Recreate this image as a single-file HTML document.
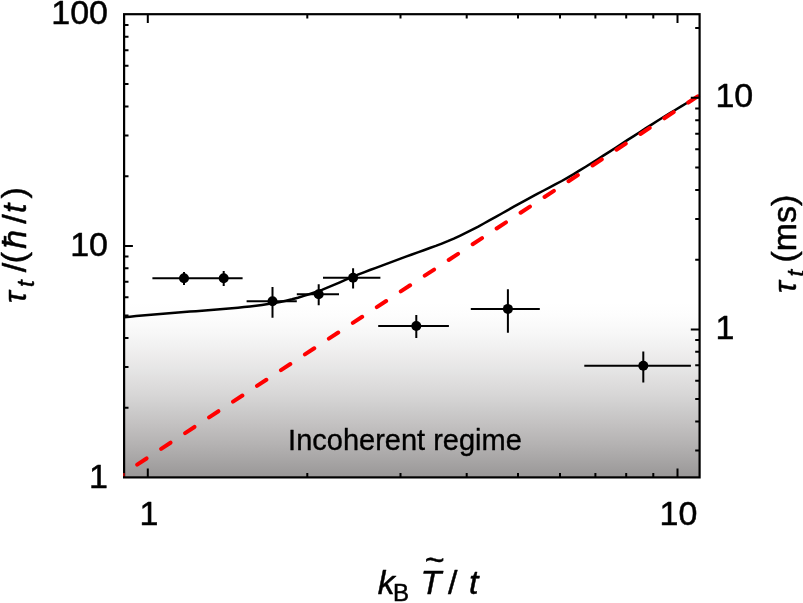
<!DOCTYPE html>
<html lang="en"><head><meta charset="utf-8"><title>Figure</title>
<style>html,body{margin:0;padding:0;background:#fff}svg{display:block}text{font-family:"Liberation Sans",sans-serif;fill:#000;stroke:#000;stroke-width:0.5px;stroke-linejoin:round}.i{font-style:italic}</style></head><body>
<svg width="803" height="603" viewBox="0 0 803 603">
<defs><linearGradient id="g" x1="0" y1="0" x2="0" y2="1"><stop offset="0.0000" stop-color="#ffffff"/><stop offset="0.0625" stop-color="#fdfdfd"/><stop offset="0.1250" stop-color="#fafafa"/><stop offset="0.1875" stop-color="#f6f6f6"/><stop offset="0.2500" stop-color="#f1f1f1"/><stop offset="0.3125" stop-color="#ecebeb"/><stop offset="0.3750" stop-color="#e6e6e6"/><stop offset="0.4375" stop-color="#e0dfdf"/><stop offset="0.5000" stop-color="#dad9d9"/><stop offset="0.5625" stop-color="#d3d2d2"/><stop offset="0.6250" stop-color="#cbcaca"/><stop offset="0.6875" stop-color="#c4c2c2"/><stop offset="0.7500" stop-color="#bcbaba"/><stop offset="0.8125" stop-color="#b4b2b2"/><stop offset="0.8750" stop-color="#aba9a9"/><stop offset="0.9375" stop-color="#a2a0a0"/><stop offset="1.0000" stop-color="#999797"/></linearGradient><clipPath id="c"><rect x="124.1" y="14.2" width="576.5" height="463.2"/></clipPath></defs>
<rect width="803" height="603" fill="#fff"/>
<rect x="124.1" y="303.0" width="575.5" height="174.4" fill="url(#g)"/>
<path d="M124.1 317.3 L130.1 316.7 L136.1 316.0 L142.1 315.4 L148.1 314.9 L154.1 314.4 L160.1 313.9 L166.1 313.4 L172.1 312.9 L178.1 312.5 L184.0 312.0 L190.0 311.6 L196.0 311.2 L202.0 310.7 L208.0 310.3 L214.0 309.8 L220.0 309.3 L226.0 308.8 L232.0 308.3 L238.0 307.7 L244.0 307.1 L250.0 306.5 L256.0 305.8 L262.0 305.0 L268.0 304.1 L274.0 303.1 L280.0 302.0 L286.0 300.7 L292.0 299.3 L297.9 297.7 L303.9 295.9 L309.9 294.0 L315.9 292.0 L321.9 289.8 L327.9 287.4 L333.9 284.9 L339.9 282.3 L345.9 279.7 L351.9 277.1 L357.9 274.7 L363.9 272.3 L369.9 270.0 L375.9 267.8 L381.9 265.6 L387.9 263.4 L393.9 261.2 L399.9 258.9 L405.9 256.7 L411.9 254.5 L417.8 252.3 L423.8 250.2 L429.8 248.0 L435.8 245.9 L441.8 243.6 L447.8 241.2 L453.8 238.6 L459.8 235.8 L465.8 232.9 L471.8 229.9 L477.8 226.8 L483.8 223.5 L489.8 220.2 L495.8 216.9 L501.8 213.5 L507.8 210.1 L513.8 206.7 L519.8 203.4 L525.8 200.1 L531.7 196.8 L537.7 193.6 L543.7 190.5 L549.7 187.4 L555.7 184.2 L561.7 181.0 L567.7 177.6 L573.7 174.1 L579.7 170.4 L585.7 166.8 L591.7 163.0 L597.7 159.2 L603.7 155.4 L609.7 151.6 L615.7 147.7 L621.7 143.8 L627.7 139.9 L633.7 136.1 L639.7 132.2 L645.6 128.4 L651.6 124.6 L657.6 120.8 L663.6 117.0 L669.6 113.3 L675.6 109.7 L681.6 106.1 L687.6 102.5 L693.6 99.0 L699.6 95.6" stroke="#000" stroke-width="2.5" fill="none" stroke-linejoin="round"/>
<path d="M113.23 480.35L702.60 93.14" stroke="#ff0000" stroke-width="4" stroke-linecap="round" stroke-dasharray="11.2 17.47" fill="none" clip-path="url(#c)"/>
<path d="M147.8 477.4V468.6M147.8 14.2V23.0M307.3 477.4V473.0M307.3 14.2V18.6M400.5 477.4V473.0M400.5 14.2V18.6M466.7 477.4V473.0M466.7 14.2V18.6M518.0 477.4V473.0M518.0 14.2V18.6M560.0 477.4V473.0M560.0 14.2V18.6M595.4 477.4V473.0M595.4 14.2V18.6M626.2 477.4V473.0M626.2 14.2V18.6M653.3 477.4V473.0M653.3 14.2V18.6M677.5 477.4V468.6M677.5 14.2V23.0M124.1 407.8H128.5M124.1 367.0H128.5M124.1 338.1H128.5M124.1 315.6H128.5M124.1 297.3H128.5M124.1 281.8H128.5M124.1 268.3H128.5M124.1 256.5H128.5M124.1 245.9H132.9M124.1 176.2H128.5M124.1 135.4H128.5M124.1 106.5H128.5M124.1 84.0H128.5M124.1 65.7H128.5M124.1 50.2H128.5M124.1 36.7H128.5M124.1 24.9H128.5M699.6 450.5H695.2M699.6 421.6H695.2M699.6 399.1H695.2M699.6 380.8H695.2M699.6 365.3H695.2M699.6 351.8H695.2M699.6 340.0H695.2M699.6 329.4H690.8M699.6 259.7H695.2M699.6 218.9H695.2M699.6 190.0H695.2M699.6 167.5H695.2M699.6 149.2H695.2M699.6 133.7H695.2M699.6 120.2H695.2M699.6 108.4H695.2M699.6 97.8H690.8M699.6 28.1H695.2" stroke="#000" stroke-width="2.0" fill="none"/>
<path d="M152.4 278.3H211.7M184.0 271.9V284.9M203.1 278.3H242.6M223.7 270.9V285.9M246.6 301.2H296.8M272.5 287.0V317.7M296.8 294.2H339.0M318.7 284.2V305.3M323.0 277.8H380.4M353.1 268.3V288.4M378.2 326.0H448.9M416.3 315.1V338.0M470.8 308.9H539.8M507.9 289.2V332.8M584.3 365.8H690.9M643.3 351.5V382.4" stroke="#000" stroke-width="2" fill="none"/>
<circle cx="184.0" cy="278.3" r="5.0" fill="#000"/>
<circle cx="223.7" cy="278.3" r="5.0" fill="#000"/>
<circle cx="272.5" cy="301.2" r="5.0" fill="#000"/>
<circle cx="318.7" cy="294.2" r="5.0" fill="#000"/>
<circle cx="353.1" cy="277.8" r="5.0" fill="#000"/>
<circle cx="416.3" cy="326.0" r="5.0" fill="#000"/>
<circle cx="507.9" cy="308.9" r="5.0" fill="#000"/>
<circle cx="643.3" cy="365.8" r="5.0" fill="#000"/>
<rect x="124.1" y="14.2" width="575.5" height="463.2" fill="none" stroke="#000" stroke-width="2.2"/>
<rect x="123.3" y="472.9" width="1.3" height="3.4" rx="0.6" fill="#ff0000"/>
<g font-size="34">
<text x="108.0" y="23.8" text-anchor="end">100</text>
<text x="108.0" y="256.0" text-anchor="end">10</text>
<text x="108.0" y="488.1" text-anchor="end">1</text>
<text x="715.4" y="107.2">10</text>
<text x="715.4" y="338.7">1</text>
<text x="149.0" y="524.9" text-anchor="middle">1</text>
<text x="678.4" y="524.9" text-anchor="middle">10</text>
</g>
<text x="288.1" y="450.1" font-size="29" style="stroke-width:0.35px">Incoherent regime</text>
<g font-size="34">
<text x="377.7" y="593.8" class="i">k</text>
<text x="393.0" y="601.4" font-size="24">B</text>
<text x="420.5" y="593.8" class="i">T</text>
<text x="424.8" y="571.0">~</text>
<text x="448.0" y="593.8">/</text>
<text x="468.9" y="593.8" class="i">t</text>
</g>
<g font-size="34" transform="translate(25.8 301.7) rotate(-90)">
<text x="-1.2" y="0" font-size="31" class="i">τ</text>
<text x="14.8" y="8.2" font-size="24" class="i">t</text>
<text x="29.4" y="0">/</text>
<text x="38.4" y="-0.8">(</text>
<text x="53.0" y="0" class="i">ħ</text>
<text x="77.9" y="0">/</text>
<text x="88.8" y="0" class="i">t</text>
<text x="103.1" y="-0.8">)</text>
</g>
<g font-size="34" transform="translate(795.6 291.8) rotate(-90)">
<text x="-1.2" y="0" font-size="31" class="i">τ</text>
<text x="15.3" y="8.2" font-size="24" class="i">t</text>
<text x="29.2" y="-0.9">(</text>
<text x="40.6" y="0">ms</text>
<text x="85.9" y="-0.9">)</text>
</g>
</svg></body></html>
